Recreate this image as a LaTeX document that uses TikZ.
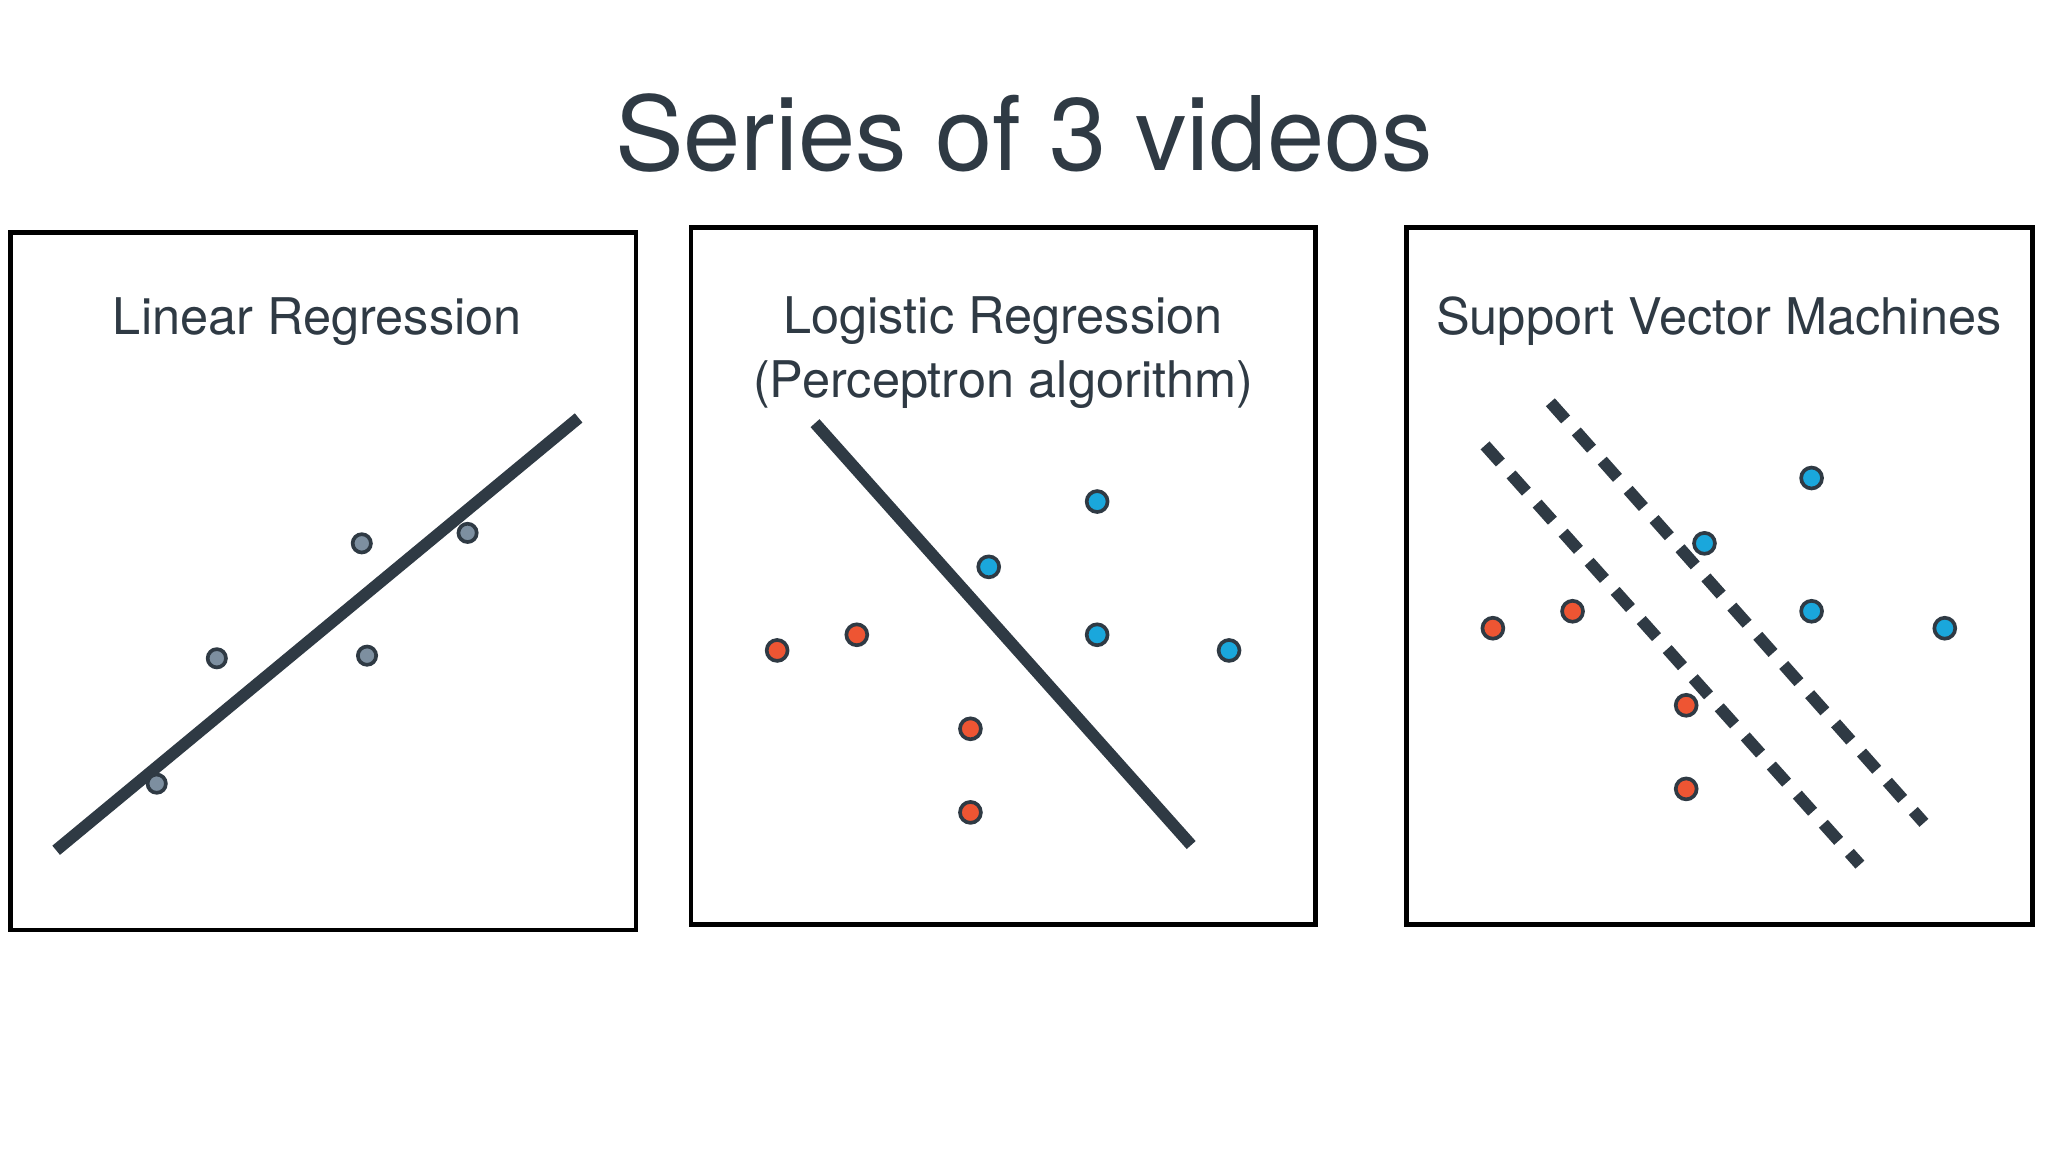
\documentclass[tikz,border=0pt]{standalone}
\usepackage{fontspec}
\setmainfont{TeX Gyre Heros}
\usetikzlibrary{positioning}
\definecolor{ink}{HTML}{2F3A44}
\definecolor{blu}{HTML}{1AA7DC}
\definecolor{rd}{HTML}{EE5533}
\definecolor{gry}{HTML}{7D8FA0}
\tikzset{
  panel/.style={draw=black,line width=1pt,fill=white},
  dot/.style={circle,draw=ink,line width=0.8pt,minimum size=0.16cm,inner sep=0pt},
  fit/.style={draw=ink,line width=2.6pt},
  margin/.style={draw=ink,line width=2.6pt,dash pattern=on 5pt off 3.5pt},
  head/.style={text=ink,font=\fontsize{11}{14}\selectfont,align=center}
}
\begin{document}
\begin{tikzpicture}[x=0.01cm,y=-0.01cm]
    \useasboundingbox[fill=white] (0,0) rectangle (1568,882);
    \node[text=ink,font=\fontsize{22.4}{27}\selectfont] (title) at (784,102) {Series of 3 videos};

    % linear regression
    \draw[panel] (8,178) rectangle (487,712);
    \node[head] (h1) at (243,246) {Linear Regression};
    \coordinate (l1a) at (43,651);
    \coordinate (l1b) at (443,320);
    \draw[fit] (l1a) -- (l1b);
    \foreach \n/\x/\y in {g1/120/600,g2/166/504,g3/277/416,g4/281/502,g5/358/408}
      \node[dot,fill=gry,minimum size=0.14cm] (\n) at (\x,\y) {};

    % logistic regression
    \draw[panel] (529,174) rectangle (1007,708);
    \node[head] (h2) at (768,270) {Logistic Regression\\(Perceptron algorithm)};
    \coordinate (l2a) at (624,324);
    \coordinate (l2b) at (912,647);
    \draw[fit] (l2a) -- (l2b);
    \foreach \n/\x/\y in {b1/757/434,b2/840/384,b3/840/486,b4/941/498}
      \node[dot,fill=blu] (\n) at (\x,\y) {};
    \foreach \n/\x/\y in {r1/595/498,r2/656/486,r3/743/558,r4/743/622}
      \node[dot,fill=rd] (\n) at (\x,\y) {};

    % support vector machines
    \draw[panel] (1077,174) rectangle (1556,708);
    \node[head] (h3) at (1316,246) {Support Vector Machines};
    \coordinate (m1a) at (1137,341);
    \coordinate (m1b) at (1424,662);
    \coordinate (m2a) at (1187,308);
    \coordinate (m2b) at (1473,630);
    \draw[margin] (m1a) -- (m1b);
    \draw[margin] (m2a) -- (m2b);
    \foreach \n/\x/\y in {sb1/1305/416,sb2/1387/366,sb3/1387/468,sb4/1489/481}
      \node[dot,fill=blu] (\n) at (\x,\y) {};
    \foreach \n/\x/\y in {sr1/1143/481,sr2/1204/468,sr3/1291/540,sr4/1291/604}
      \node[dot,fill=rd] (\n) at (\x,\y) {};
\end{tikzpicture}
\end{document}
